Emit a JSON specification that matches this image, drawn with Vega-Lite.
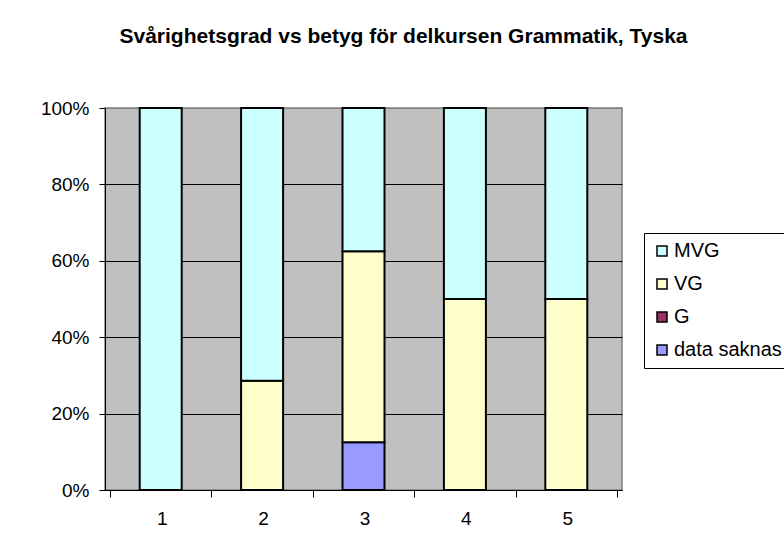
{
  "$schema": "https://vega.github.io/schema/vega-lite/v6.json",
  "autosize": {"type": "none"},
  "width": 517,
  "height": 382,
  "padding": {"left": 105, "top": 108, "right": 162, "bottom": 62},
  "background": "white",
  "title": {
    "text": "Svårighetsgrad vs betyg för delkursen Grammatik, Tyska",
    "font": "Liberation Sans",
    "fontSize": 21,
    "fontWeight": "bold",
    "color": "black",
    "anchor": "middle",
    "frame": "group",
    "dx": 40,
    "offset": 52
  },
  "config": {
    "view": {"fill": "#C0C0C0", "stroke": "#808080", "strokeWidth": 1.5},
    "axis": {"labelFont": "Liberation Sans", "labelFontSize": 19, "labelColor": "black"}
  },
  "data": {
    "values": [
      {"kurs": 1, "betyg": "MVG", "rank": 3, "andel": 100},
      {"kurs": 2, "betyg": "VG", "rank": 2, "andel": 28.57},
      {"kurs": 2, "betyg": "MVG", "rank": 3, "andel": 71.43},
      {"kurs": 3, "betyg": "data saknas", "rank": 0, "andel": 12.5},
      {"kurs": 3, "betyg": "VG", "rank": 2, "andel": 50},
      {"kurs": 3, "betyg": "MVG", "rank": 3, "andel": 37.5},
      {"kurs": 4, "betyg": "VG", "rank": 2, "andel": 50},
      {"kurs": 4, "betyg": "MVG", "rank": 3, "andel": 50},
      {"kurs": 5, "betyg": "VG", "rank": 2, "andel": 50},
      {"kurs": 5, "betyg": "MVG", "rank": 3, "andel": 50}
    ]
  },
  "mark": {"type": "bar", "size": 42, "stroke": "black", "strokeWidth": 2},
  "encoding": {
    "x": {
      "field": "kurs",
      "type": "quantitative",
      "scale": {"domain": [0.5, 5.5], "nice": false, "zero": false},
      "axis": {
        "title": null,
        "values": [0.5, 1.5, 2.5, 3.5, 4.5, 5.5],
        "labelExpr": "datum.value < 5 ? format(datum.value + 0.5, 'd') : ''",
        "labelOffset": 51.7,
        "labelFlush": false,
        "labelOverlap": false,
        "labelPadding": 12,
        "tickSize": 7,
        "tickColor": "black",
        "domainColor": "black",
        "domainWidth": 1,
        "grid": false
      }
    },
    "y": {
      "field": "andel",
      "type": "quantitative",
      "stack": "normalize",
      "scale": {"domain": [0, 1], "nice": false},
      "axis": {
        "title": null,
        "values": [0, 0.2, 0.4, 0.6, 0.8, 1],
        "format": ".0%",
        "tickSize": 6,
        "tickColor": "black",
        "labelPadding": 10,
        "domainColor": "black",
        "grid": true,
        "gridColor": {"condition": {"test": "datum.value == 1", "value": "#808080"}, "value": "black"},
        "gridOpacity": 1,
        "gridWidth": 1
      }
    },
    "color": {
      "field": "betyg",
      "type": "nominal",
      "scale": {
        "domain": ["MVG", "VG", "G", "data saknas"],
        "range": ["#CCFFFF", "#FFFFCC", "#993366", "#9999FF"]
      },
      "legend": {
        "title": null,
        "orient": "none",
        "legendX": 539,
        "legendY": 125,
        "padding": 8,
        "strokeColor": "black",
        "fillColor": "white",
        "symbolType": "square",
        "symbolSize": 100,
        "symbolStrokeColor": "black",
        "symbolStrokeWidth": 1.5,
        "symbolOpacity": 1,
        "labelFont": "Liberation Sans",
        "labelFontSize": 20,
        "labelColor": "black",
        "labelOffset": 2,
        "rowPadding": 13,
        "labelLimit": 300
      }
    },
    "order": {"field": "rank", "type": "quantitative", "sort": "ascending"}
  }
}
